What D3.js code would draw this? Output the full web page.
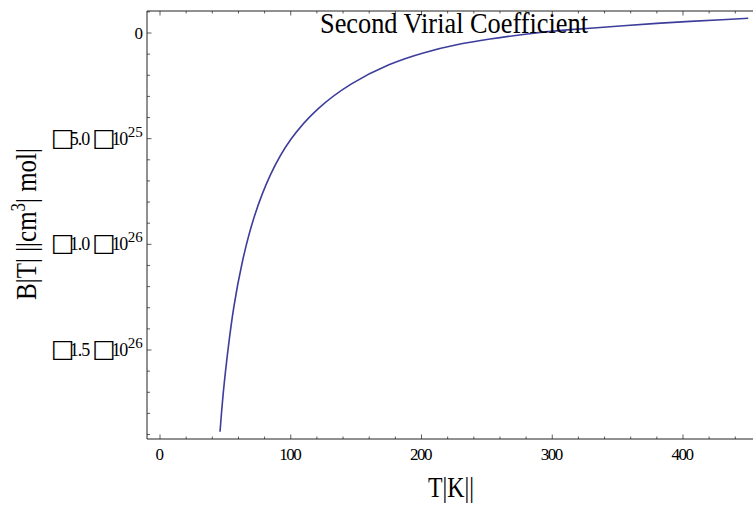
<!DOCTYPE html>
<html lang="en">
<head>
    <meta charset="UTF-8">
    <script src="https://d3js.org/d3.v7.min.js"></script>
    <title>Second Virial Coefficient</title>
    <style>
        body { margin: 0; background: white; }
        text { font-family: "Liberation Serif", "Times New Roman", serif; fill: black; }
        .frame { fill: none; stroke: #222; stroke-width: 1px; }
        .tick { stroke: #333; stroke-width: 0.8px; }
    </style>
</head>
<body>
    <div id="chart"></div>

    <script>
        // curve values (T in K, B in units of 1e-26)
        const temps = [45.9, 48.4, 52.3, 56.1, 62.5, 71.4, 84.1, 99.4, 119.8, 145.3, 175.9, 201.4,
                       226.9, 252.4, 277.9, 303.4, 328.9, 354.4, 379.9, 405.4, 430.8, 449.9];
        const bValues = [-1.887, -1.690, -1.480, -1.300, -1.085, -0.869, -0.664, -0.498, -0.356, -0.238,
                         -0.143, -0.092, -0.054, -0.028, -0.006, 0.011, 0.022, 0.035, 0.046, 0.055, 0.063, 0.070];

        const xTicks = [0, 100, 200, 300, 400];
        const xMinor = d3.range(0, 460, 20);
        const yTicks = [0, -0.5, -1.0, -1.5];
        const yMinor = d3.range(0.1, -1.95, -0.1);
        const yMantissa = ["", "5.0", "1.0", "1.5"];
        const yExponent = ["", "25", "26", "26"];

        const width = 753, height = 508;
        const frame = { left: 147, top: 11, bottom: 439, right: 800 };

        const x = d3.scaleLinear().domain([0, 400]).range([160, 683]);
        const y = d3.scaleLinear().domain([0, -1.5]).range([33, 350]);

        const svg = d3.select("#chart").append("svg")
            .attr("width", width)
            .attr("height", height);

        svg.append("defs").append("clipPath").attr("id", "plot")
            .append("rect")
            .attr("x", frame.left).attr("y", frame.top)
            .attr("width", frame.right - frame.left).attr("height", frame.bottom - frame.top);

        // ticks, inward on bottom, top and left
        const majorX = new Set(xTicks);
        xMinor.filter(v => x(v) > frame.left).forEach(v => {
            const len = majorX.has(v) ? 4.5 : 2.5;
            svg.append("line").attr("class", "tick")
                .attr("x1", x(v)).attr("x2", x(v))
                .attr("y1", frame.bottom).attr("y2", frame.bottom - len);
            svg.append("line").attr("class", "tick")
                .attr("x1", x(v)).attr("x2", x(v))
                .attr("y1", frame.top).attr("y2", frame.top + len);
        });
        yMinor.forEach(v => {
            const isMajor = yTicks.some(t => Math.abs(t - v) < 1e-6);
            const yy = y(v);
            if (yy < frame.top + 0.5 || yy > frame.bottom) return;
            svg.append("line").attr("class", "tick")
                .attr("x1", frame.left).attr("x2", frame.left + (isMajor ? 4.5 : 3))
                .attr("y1", yy).attr("y2", yy);
        });

        svg.append("path").attr("class", "frame")
            .attr("d", `M${frame.right},${frame.top}H${frame.left}V${frame.bottom}H${frame.right}`);

        // curve
        const line = d3.line()
            .x((d, i) => x(temps[i]))
            .y(d => y(d))
            .curve(d3.curveBasis);

        svg.append("path")
            .datum(bValues)
            .attr("clip-path", "url(#plot)")
            .attr("d", line)
            .attr("fill", "none")
            .attr("stroke", "#3d3d9c")
            .attr("stroke-width", 1.6);

        // x tick labels
        svg.selectAll(".xlab")
            .data(xTicks)
            .enter()
            .append("text")
            .attr("x", d => x(d) - 1)
            .attr("y", 460)
            .attr("text-anchor", "middle")
            .attr("font-size", 17)
            .attr("letter-spacing", -1.5)
            .text(d => d);

        // y tick labels (missing glyphs show as boxes)
        yTicks.forEach((v, i) => {
            const t = svg.append("text")
                .attr("y", y(v) + 6)
                .attr("font-size", 17);
            if (!yMantissa[i]) {
                t.attr("x", 143).attr("text-anchor", "end").text("0");
                return;
            }
            t.attr("x", 51);
            t.append("tspan").style("font-family", "DejaVu Sans").attr("font-size", 25).attr("dy", 1).text("□");
            t.append("tspan").attr("dx", -5).attr("dy", -1).attr("font-size", 18).attr("letter-spacing", -1).text(yMantissa[i]);
            t.append("tspan").style("font-family", "DejaVu Sans").attr("font-size", 25).attr("dx", 3).attr("dy", 1).text("□");
            t.append("tspan").attr("dx", -4).attr("dy", -1).attr("font-size", 18).attr("letter-spacing", -1.5).text("10");
            t.append("tspan").attr("font-size", 15).attr("dy", -8).attr("dx", 1).text(yExponent[i]);
        });

        // title
        svg.append("text")
            .attr("x", 454)
            .attr("y", 33)
            .attr("text-anchor", "middle")
            .attr("font-size", 30)
            .attr("textLength", 268)
            .attr("lengthAdjust", "spacingAndGlyphs")
            .text("Second Virial Coefficient");

        // axis labels
        svg.append("text")
            .attr("x", 451)
            .attr("y", 497)
            .attr("text-anchor", "middle")
            .attr("font-size", 30)
            .attr("textLength", 46)
            .attr("lengthAdjust", "spacingAndGlyphs")
            .text("T|K||");

        const ylab = svg.append("text")
            .attr("transform", "translate(36,224) rotate(-90)")
            .attr("text-anchor", "middle")
            .attr("font-size", 30)
            .attr("textLength", 152)
            .attr("lengthAdjust", "spacingAndGlyphs");
        ylab.append("tspan").text("B|T| ||cm");
        ylab.append("tspan").attr("font-size", 20).attr("dy", -11).text("3");
        ylab.append("tspan").attr("dy", 11).text("| mol|");
    </script>
</body>
</html>
